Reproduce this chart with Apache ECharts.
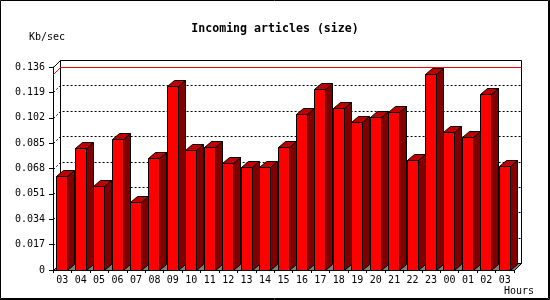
<!DOCTYPE html>
<html>
<head>
<meta charset="utf-8">
<script src="https://cdn.jsdelivr.net/npm/echarts@6/dist/echarts.min.js"></script>
<style>html,body{margin:0;padding:0;background:#fff}#c{width:550px;height:300px}</style>
</head>
<body>
<div id="c"></div>
<script>
const hours = ['03','04','05','06','07','08','09','10','11','12','13','14','15','16','17','18','19','20','21','22','23','00','01','02','03'];
const kbPerSec = [0.0630,0.0817,0.0563,0.0878,0.0456,0.0750,0.1233,0.0804,0.0822,0.0715,0.0688,0.0688,0.0822,0.1045,0.1210,0.1083,0.0992,0.1023,0.1056,0.0735,0.1311,0.0925,0.0889,0.1179,0.0695];
const yTicks = [0,0.017,0.034,0.051,0.068,0.085,0.102,0.119,0.136];
const titleText = 'Incoming articles (size)';
const yName = 'Kb/sec';
const xName = 'Hours';

const FONT = 'DejaVu Sans Mono';
const D = 7;        // wall depth
const BDX = 7, BDY = 6; // bar depth
const maxVal = Math.max.apply(null, kbPerSec);
const r = v => Math.round(v) + 0.5;

function renderWalls(params, api) {
  const cs = params.coordSys;
  const x0 = r(cs.x), x1 = r(cs.x + cs.width);
  const y0 = r(cs.y), yb = r(cs.y + cs.height);
  const ch = [];
  ch.push({type:'rect', shape:{x:x0 + D, y:y0 - D, width:x1 - x0, height:yb - y0}, style:{fill:'#fff', stroke:'#000', lineWidth:1}});
  ch.push({type:'line', shape:{x1:x0, y1:y0, x2:x0 + D, y2:y0 - D}, style:{stroke:'#000', lineWidth:1}});
  yTicks.slice(1, -1).forEach(t => {
    const y = r(api.coord([0, t])[1]);
    ch.push({type:'polyline', shape:{points:[[x0, y],[x0 + D, y - D],[x1 + D, y - D]]}, style:{stroke:'#000', lineWidth:1, lineDash:[2,2], fill:null}});
  });
  const ym = r(api.coord([0, maxVal])[1]);
  ch.push({type:'polyline', shape:{points:[[x0, ym],[x0 + D, ym - D],[x1 + D, ym - D]]}, style:{stroke:'#ff0000', lineWidth:1, fill:null}});
  ch.push({type:'polygon', shape:{points:[[x0, yb],[x1, yb],[x1 + D, yb - D],[x0 + D, yb - D]]}, style:{fill:'#808080', stroke:'#000', lineWidth:1}});
  return {type:'group', children:ch};
}

function renderBar(params, api) {
  const i = api.value(0), v = api.value(1);
  const top = api.coord([i, v]);
  const base = api.coord([i, 0]);
  const c = top[0];
  const fl = r(c - 6), fr = r(c + 5);
  const yt = r(top[1]), yb = r(base[1]);
  return {type:'group', children:[
    {type:'polygon', shape:{points:[[fr, yt],[fr + BDX, yt - BDY],[fr + BDX, yb - BDY],[fr, yb]]}, style:{fill:'#800000', stroke:'#000', lineWidth:1}},
    {type:'polygon', shape:{points:[[fl, yt],[fl + BDX, yt - BDY],[fr + BDX, yt - BDY],[fr, yt]]}, style:{fill:'#c00000', stroke:'#000', lineWidth:1}},
    {type:'rect', shape:{x:fl, y:yt, width:fr - fl, height:yb - yt}, style:{fill:'#ff0000', stroke:'#000', lineWidth:1}}
  ]};
}

const chart = echarts.init(document.getElementById('c'), null, {renderer:'canvas'});
chart.setOption({
  animation:false,
  backgroundColor:'#fff',
  title:{text:titleText, left:'center', top:18, textStyle:{fontFamily:FONT, fontWeight:'bold', fontSize:11.6, color:'#000'}},
  grid:{left:53, right:36, top:67, bottom:30, containLabel:false},
  xAxis:{
    type:'category', data:hours, boundaryGap:true,
    axisLine:{lineStyle:{color:'#000', width:1}},
    axisTick:{show:true, length:3, lineStyle:{color:'#000'}, alignWithLabel:false},
    axisLabel:{interval:0, margin:5, fontFamily:FONT, fontSize:10, color:'#000'},
    splitLine:{show:false}
  },
  yAxis:{
    type:'value', min:yTicks[0], max:yTicks[yTicks.length - 1], interval:yTicks[1] - yTicks[0],
    axisLine:{show:true, lineStyle:{color:'#000', width:1}},
    axisTick:{show:true, length:4, lineStyle:{color:'#000'}},
    axisLabel:{margin:8, fontFamily:FONT, fontSize:10, color:'#000', formatter:v => v === 0 ? '0' : v.toFixed(3)},
    splitLine:{show:false}
  },
  graphic:[
    {type:'text', left:29, top:32, style:{text:yName, font:'10px "DejaVu Sans Mono"', fill:'#000'}},
    {type:'text', left:504, top:286, style:{text:xName, font:'10px "DejaVu Sans Mono"', fill:'#000'}},
    {type:'rect', shape:{x:0.5, y:0.5, width:548, height:298}, style:{fill:null, stroke:'#000', lineWidth:1}, z:100},
    {type:'polyline', shape:{points:[[549.5,0],[549.5,299.5],[0,299.5]]}, style:{fill:null, stroke:'#000', lineWidth:1}, z:100}
  ],
  series:[
    {type:'custom', coordinateSystem:'cartesian2d', data:[[0, 0]], renderItem:renderWalls, z:1, silent:true},
    {type:'custom', coordinateSystem:'cartesian2d', data:kbPerSec.map((v, i) => [i, v]), renderItem:renderBar, z:3, silent:true}
  ]
});
</script>
</body>
</html>
